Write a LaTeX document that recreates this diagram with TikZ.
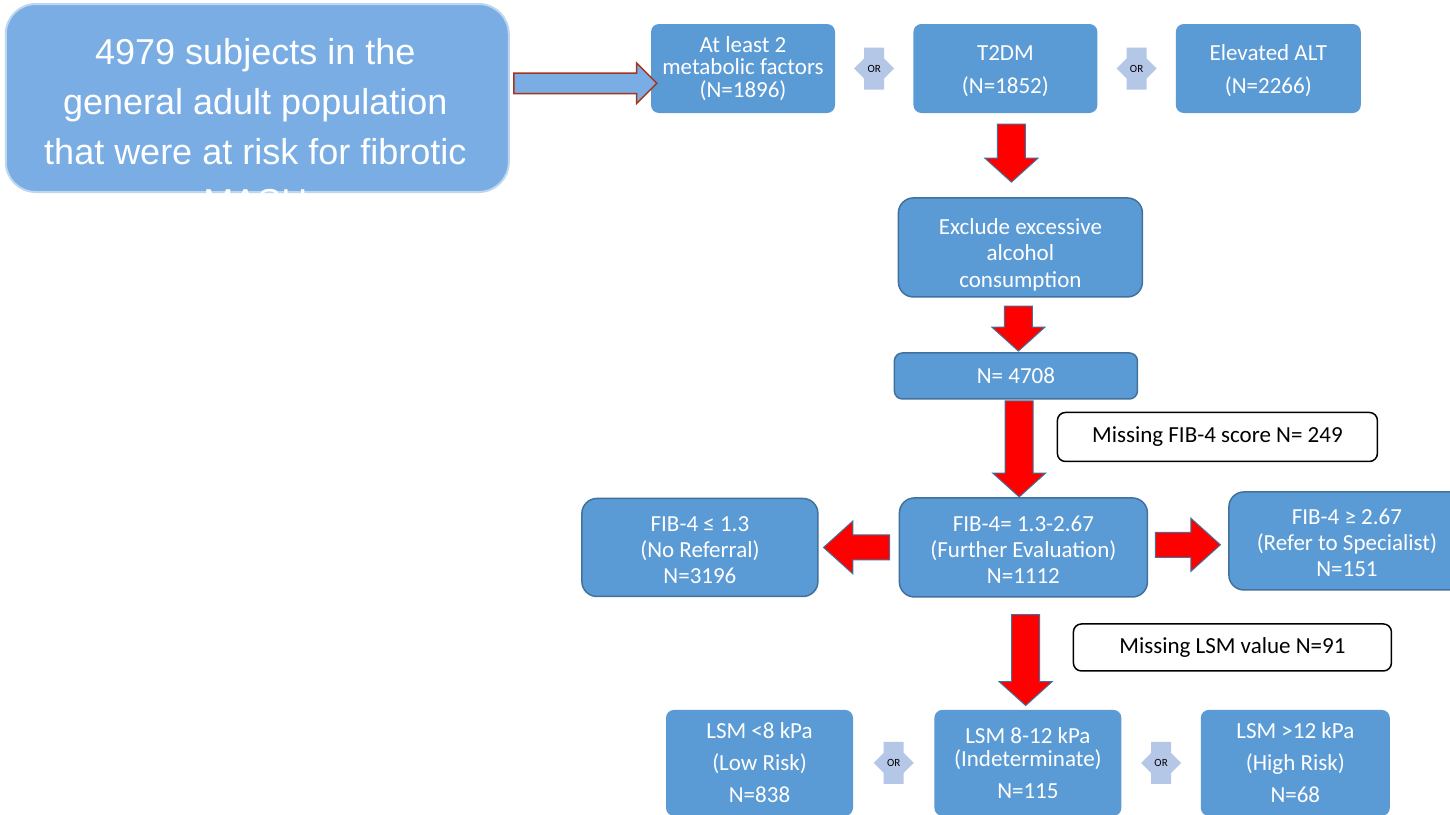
\documentclass[tikz,border=0pt]{standalone}
\usepackage{fontspec}
\setmainfont{Carlito}
\newfontfamily\arialfont{Liberation Sans}
\usepackage{tikz}
\usetikzlibrary{shapes.arrows, positioning, calc}
\definecolor{boxblue}{HTML}{5B9BD5}
\definecolor{boxedge}{HTML}{41719C}
\definecolor{popblue}{HTML}{7AADE4}
\definecolor{popedge}{HTML}{BDD7EE}
\definecolor{linkedge}{HTML}{A5341F}
\definecolor{orfill}{HTML}{B4C7E7}
\tikzset{
  popbox/.style={
    rectangle, rounded corners=30pt,
    minimum width=503pt, minimum height=188pt,
    fill=popblue, draw=popedge, line width=2pt,
  },
  poptext/.style={
    align=center, inner sep=0pt, text=white,
    font=\arialfont\fontsize{36}{50}\selectfont,
  },
  stepbox/.style={
    rectangle, rounded corners=8pt, inner sep=0pt,
    align=center, fill=boxblue, text=white,
    font=\fontsize{23}{23}\selectfont,
  },
  framed/.style={stepbox, draw=boxedge, line width=1.5pt},
  missbox/.style={
    rectangle, rounded corners=8pt, inner sep=0pt,
    align=center, fill=white, draw=black, line width=1.5pt,
    font=\fontsize{23}{23}\selectfont,
  },
  orlink/.style={
    rectangle, minimum width=44pt, minimum height=44pt, inner sep=0pt,
    font=\fontsize{11}{11}\selectfont,
    path picture={
      \fill[orfill] ($(path picture bounding box.center)+(-20pt,0pt)$)
        -- ++(10pt,10pt) -- ++(0pt,11pt) -- ++(20pt,0pt) -- ++(0pt,-11pt)
        -- ++(10pt,-10pt) -- ++(-10pt,-10pt) -- ++(0pt,-11pt) -- ++(-20pt,0pt)
        -- ++(0pt,11pt) -- cycle;
    },
  },
  fatarrow/.style={
    single arrow, inner sep=13.5pt, text width=0pt, text height=0pt, text depth=0pt,
    fill=red, draw=boxedge, line width=1pt,
    single arrow head extend=12.5pt,
  },
  fatdown/.style={fatarrow, shape border rotate=270, single arrow tip angle=96},
  fatleft/.style={fatarrow, inner sep=12pt, single arrow head extend=14pt,
    shape border rotate=180, single arrow tip angle=84},
  fatright/.style={fatarrow, inner sep=12pt, single arrow head extend=14pt,
    single arrow tip angle=84},
  hollowarrow/.style={
    single arrow, inner sep=9.5pt, text width=0pt, text height=0pt, text depth=0pt,
    fill=popblue, draw=linkedge, line width=1.5pt,
    single arrow head extend=10pt, single arrow tip angle=90,
  },
}

\begin{document}
\begin{tikzpicture}[x=1pt, y=-1pt]

  \path[use as bounding box, fill=white] (0,0) rectangle (1450,814);
  \clip (0,0) rectangle (1450,814);

  % top row
  \node[stepbox, minimum width=184pt, minimum height=89pt,
        font=\fontsize{23}{22.5}\selectfont] (metab) at (743,68.5)
        {At least 2\\metabolic factors\\(N=1896)};
  \node[stepbox, minimum width=184pt, minimum height=89pt,
        font=\fontsize{23}{33}\selectfont, right=78pt of metab] (t2dm)
        {\rule{0pt}{20pt}T2DM\\(N=1852)};
  \node[stepbox, minimum width=185pt, minimum height=89pt,
        font=\fontsize{23}{33}\selectfont, right=78pt of t2dm] (alt)
        {\rule{0pt}{20pt}Elevated ALT\\(N=2266)};

  \node[popbox, left=141pt of metab, yshift=-29.5pt] (pop) {};
  \node[poptext, below=35.5pt of pop.north, xshift=-2pt] (poptxt)
        {4979 subjects in the\\general adult population\\that were at risk for fibrotic\\MASH};

  % main column
  \node[framed, rounded corners=15pt, minimum width=244pt, minimum height=99pt,
        font=\fontsize{23}{26.5}\selectfont,
        below=84pt of t2dm, xshift=15pt] (excl)
        {\rule{0pt}{30pt}Exclude excessive\\alcohol\\consumption};
  \node[framed, minimum width=243pt, minimum height=46pt,
        below=54.5pt of excl, xshift=-4.5pt] (n4708) {N= 4708};
  \node[framed, rounded corners=15pt, minimum width=248pt, minimum height=99pt,
        font=\fontsize{23}{26}\selectfont,
        below=97.5pt of n4708, xshift=7.5pt] (fibmid)
        {\rule{0pt}{20pt}FIB-4= 1.3-2.67\\(Further Evaluation)\\N=1112};
  \node[framed, rounded corners=15pt, minimum width=236pt, minimum height=98pt,
        font=\fontsize{23}{26}\selectfont, left=80pt of fibmid] (fiblow)
        {\rule{0pt}{20pt}FIB-4 ≤ 1.3\\(No Referral)\\N=3196};
  \node[framed, rounded corners=15pt, minimum width=236pt, minimum height=98pt,
        font=\fontsize{23}{26}\selectfont, right=80pt of fibmid, yshift=6.5pt] (fibhigh)
        {\rule{0pt}{20pt}FIB-4 ≥ 2.67\\(Refer to Specialist)\\N=151};
  \node[missbox, minimum width=320pt, minimum height=49pt,
        above=35pt of fibmid, xshift=194pt] (missfib) {Missing FIB-4 score N= 249};

  % LSM row
  \node[stepbox, minimum width=187pt, minimum height=106pt,
        below=112pt of fibmid, xshift=4.5pt] (lsmmid)
        {LSM 8-12 kPa\\(Indeterminate)\\[9pt]N=115};
  \node[stepbox, minimum width=187pt, minimum height=106pt,
        font=\fontsize{23}{32}\selectfont, left=81pt of lsmmid] (lsmlow)
        {LSM <8 kPa\\(Low Risk)\\N=838};
  \node[stepbox, minimum width=189pt, minimum height=106pt,
        font=\fontsize{23}{32}\selectfont, right=79pt of lsmmid] (lsmhigh)
        {LSM >12 kPa\\(High Risk)\\N=68};
  \node[missbox, minimum width=318pt, minimum height=47pt,
        above=38pt of lsmmid, xshift=204.5pt] (misslsm) {Missing LSM value N=91};

  % arrows
  \path (pop.east) -- node[hollowarrow, minimum height=143pt] {} (metab.west);
  \path (metab.east) -- node[orlink] {OR} (t2dm.west);
  \path (t2dm.east) -- node[orlink] {OR} (alt.west);
  \path (t2dm.south) -- node[fatdown, pos=.40, minimum height=58pt] {} (excl.north);
  \path (excl.south) -- node[fatdown, pos=.45, minimum height=45pt] {} (n4708.north);
  \path (n4708.south) -- node[fatdown, pos=.44, minimum height=96pt] {} (fibmid.north);
  \path (fibmid.west) -- node[fatleft, pos=.44, minimum height=66pt] {} (fiblow.east);
  \path (fibmid.east) -- node[fatright, pos=.41, minimum height=65pt] {} (fibhigh.west);
  \path (fibmid.south) -- node[fatdown, pos=.50, minimum height=91pt] {} (lsmmid.north);
  \path (lsmlow.east) -- node[orlink] {OR} (lsmmid.west);
  \path (lsmmid.east) -- node[orlink] {OR} (lsmhigh.west);

\end{tikzpicture}
\end{document}
